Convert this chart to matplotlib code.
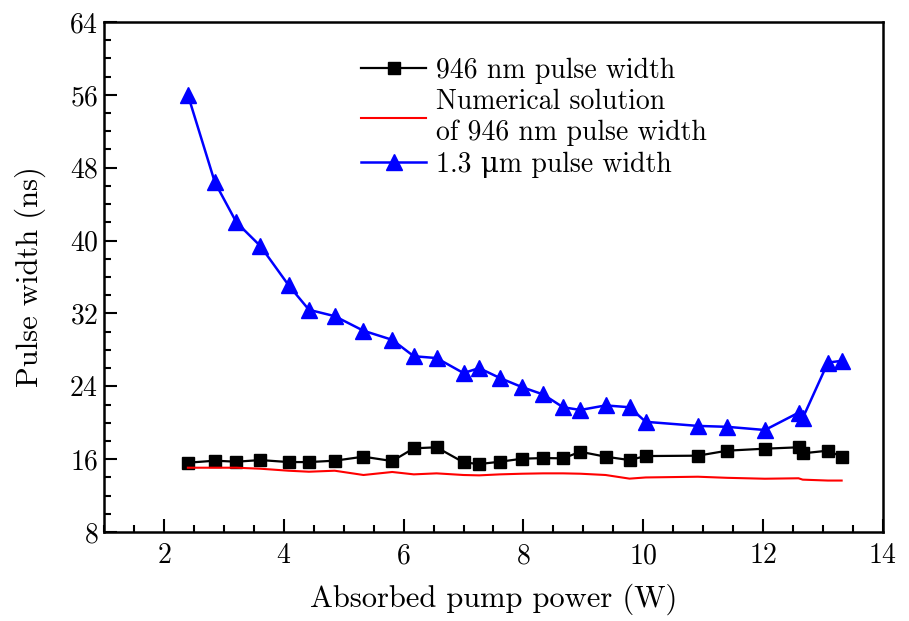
import matplotlib
matplotlib.use("Agg")
import matplotlib.pyplot as plt
from matplotlib.ticker import MultipleLocator

plt.rcParams['font.family'] = ['cmr10', 'DejaVu Serif']
plt.rcParams['axes.unicode_minus'] = False
plt.rcParams['axes.formatter.use_mathtext'] = True

# absorbed pump power (W)
power = [2.40, 2.85, 3.21, 3.61, 4.08, 4.42, 4.85, 5.33, 5.81, 6.17,
         6.55, 7.00, 7.26, 7.61, 7.98, 8.33, 8.66, 8.95, 9.37, 9.77,
         10.04, 10.91, 11.40, 12.03, 12.59, 12.66, 13.08, 13.31]

# 946 nm pulse width (ns)
pw_946 = [15.61, 15.83, 15.72, 15.90, 15.68, 15.68, 15.83, 16.27, 15.79, 17.19,
          17.30, 15.65, 15.46, 15.72, 16.05, 16.12, 16.09, 16.81, 16.27, 15.90,
          16.34, 16.38, 16.93, 17.15, 17.30, 16.64, 16.93, 16.27]

# numerical solution of 946 nm pulse width (ns)
pw_num = [15.06, 15.06, 15.06, 14.95, 14.73, 14.62, 14.73, 14.26, 14.59, 14.33,
          14.44, 14.26, 14.22, 14.33, 14.40, 14.44, 14.44, 14.40, 14.26, 13.86,
          13.99, 14.07, 13.95, 13.85, 13.90, 13.75, 13.65, 13.65]

# 1.3 um pulse width (ns)
pw_13 = [56.0, 46.4, 42.0, 39.4, 35.1, 32.4, 31.7, 30.1, 29.1, 27.3,
         27.1, 25.45, 26.0, 24.9, 23.9, 23.1, 21.7, 21.4, 21.9, 21.7,
         20.1, 19.65, 19.55, 19.2, 21.1, 20.5, 26.6, 26.8]

fig = plt.figure(figsize=(9.09, 6.21), dpi=100)
ax = fig.add_axes([0.1144, 0.1433, 0.857, 0.8213])

ax.plot(power, pw_946, color='black', lw=1.6, marker='s', ms=8.5,
        label='946 nm pulse width')
ax.plot(power, pw_num, color='red', lw=1.5,
        label='Numerical solution\nof 946 nm pulse width')
ax.plot(power, pw_13, color='blue', lw=1.8, marker='^', ms=11,
        label='1.3 \u03bcm pulse width')

ax.set_xlim(1, 14)
ax.set_ylim(8, 64)
ax.xaxis.set_major_locator(MultipleLocator(2))
ax.xaxis.set_minor_locator(MultipleLocator(0.5))
ax.yaxis.set_major_locator(MultipleLocator(8))
ax.yaxis.set_minor_locator(MultipleLocator(2))
ax.tick_params(which='both', direction='in', top=False, right=False, width=1.5)
ax.tick_params(which='major', length=9.5, labelsize=20)
ax.tick_params(axis='x', which='major', pad=8)
ax.tick_params(axis='y', which='major', pad=4)
ax.tick_params(which='minor', length=4.8)
for s in ax.spines.values():
    s.set_linewidth(1.8)

ax.set_xlabel('Absorbed pump power (W)', fontsize=22, labelpad=10)
ax.set_ylabel('Pulse width (ns)', fontsize=22, labelpad=17)

ax.legend(loc='upper left', bbox_to_anchor=(0.298, 0.98), frameon=False,
          fontsize=20, handlelength=2.35, handletextpad=0.35, labelspacing=0.2)

plt.savefig('out.png', dpi=100)
